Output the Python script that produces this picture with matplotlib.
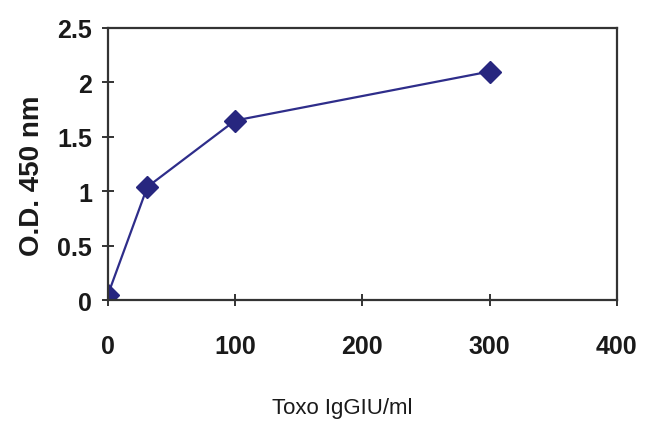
import matplotlib
matplotlib.use('Agg')
import matplotlib.pyplot as plt

# Toxo IgG standard curve
conc = [0, 31, 100, 300]
od = [0.05, 1.04, 1.65, 2.10]
xticks = [0, 100, 200, 300, 400]
yticks = [0, 0.5, 1, 1.5, 2, 2.5]
ytick_labels = ['0', '0.5', '1', '1.5', '2', '2.5']

plt.rcParams['font.family'] = ['Liberation Sans', 'DejaVu Sans']

fig = plt.figure(figsize=(6.5, 4.39), dpi=100)
ax = fig.add_axes([0.166, 0.314, 0.783, 0.62])

ax.plot(conc, od, color='#2e2d8a', linewidth=1.6, marker='D',
        markersize=11, markerfacecolor='#27267f', markeredgecolor='#27267f')

ax.set_xlim(0, 400)
ax.set_ylim(0, 2.5)
ax.set_xticks(xticks)
ax.set_yticks(yticks)
ax.set_yticklabels(ytick_labels)

for s in ax.spines.values():
    s.set_linewidth(1.6)
    s.set_color('#333333')

ax.tick_params(axis='both', direction='inout', length=9, width=1.4,
               color='#333333', labelsize=18, labelcolor='#1a1a1a')
ax.tick_params(axis='x', pad=20)
ax.tick_params(axis='y', pad=7)
for lab in ax.get_xticklabels() + ax.get_yticklabels():
    lab.set_fontweight('bold')

ax.set_ylabel('O.D. 450 nm', fontsize=20, fontweight='bold', color='#1a1a1a')
ax.yaxis.set_label_coords(-0.124, 0.46)
ax.set_xlabel('Toxo IgGIU/ml', fontsize=16, color='#1a1a1a')
ax.xaxis.set_label_coords(0.46, -0.357)

fig.savefig('out.png', dpi=100)
